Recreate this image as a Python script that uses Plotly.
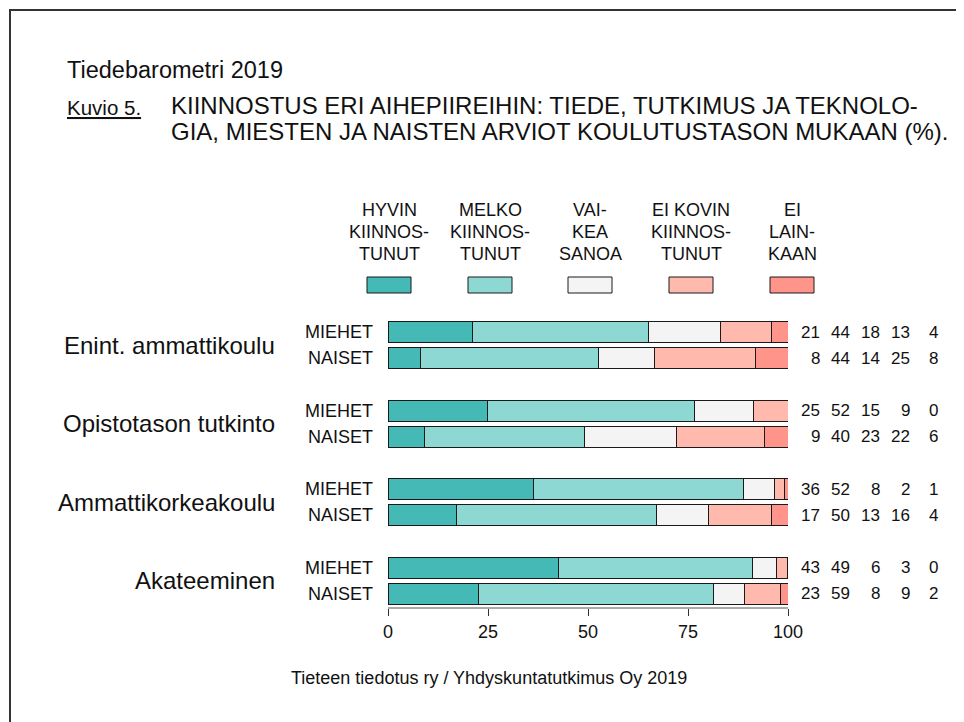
import plotly.graph_objects as go

# ---- data ----
groups = ["Enint. ammattikoulu", "Opistotason tutkinto", "Ammattikorkeakoulu", "Akateeminen"]
genders = ["MIEHET", "NAISET"]
categories = [["HYVIN", "KIINNOS-", "TUNUT"], ["MELKO", "KIINNOS-", "TUNUT"], ["VAI-", "KEA", "SANOA"],
              ["EI KOVIN", "KIINNOS-", "TUNUT"], ["EI", "LAIN-", "KAAN"]]
# rows: (group, gender) in order; values per category (%)
hyvin   = [21.0,  8.2, 24.9,  9.1, 36.4, 17.0, 42.6, 22.7]
melko   = [44.0, 44.4, 51.6, 40.1, 52.4, 50.1, 48.6, 58.6]
vaikea  = [18.0, 14.1, 14.9, 23.0,  7.9, 12.9,  5.8,  7.7]
eikovin = [12.9, 25.2,  8.6, 22.0,  2.3, 15.9,  2.8,  9.0]
eilain  = [ 4.1,  8.1,  0.0,  5.8,  1.0,  4.1,  0.2,  2.0]
series = [hyvin, melko, vaikea, eikovin, eilain]
x_ticks = [0, 25, 50, 75, 100]

colors = ["#45B9B5", "#8ED8D3", "#F4F4F4", "#FFB9AD", "#FF958A"]
FONT = "Liberation Sans, Arial, sans-serif"

OFF = 8  # page margin offset of the rendered figure
W, H = 964, 722
L, T = 388 - OFF, 319 - OFF
PW, PH = 400, 288
R, B = W - L - PW, H - T - PH

def px(xp):
    return (xp - OFF - L) / PW

def py(yp):
    return 1 - (yp - OFF - T) / PH

# y positions: group g, gender s
ypos = [3 * g + s for g in range(len(groups)) for s in range(len(genders))]

fig = go.Figure()
for vals, col, name in zip(series, colors, categories):
    fig.add_trace(go.Bar(
        x=vals, y=ypos, orientation="h", width=0.8,
        marker=dict(color=col, line=dict(color="#1a1a1a", width=1)),
        name=" ".join(name), showlegend=False, hoverinfo="x",
    ))

ann = []
shapes = []

def text(x, y, s, size, xanchor="left", xref="paper", yref="paper"):
    ann.append(dict(x=x, y=y, xref=xref, yref=yref, text=s, showarrow=False,
                    xanchor=xanchor, yanchor="middle",
                    font=dict(size=size, color="#111", family=FONT)))

# row labels
for i, p in enumerate(ypos):
    text(px(375), p, genders[i % 2], 18, "right", yref="y")
# group labels
for g, name in enumerate(groups):
    text(px(277), 3 * g + 0.5, name, 24, "right", yref="y")
# numeric labels
col_right = [822, 852, 882, 912, 940]
for i, p in enumerate(ypos):
    for k, vals in enumerate(series):
        text(px(col_right[k]), p, str(int(round(vals[i]))), 17, "right", yref="y")
# legend
leg_cx = [389, 490, 590, 691, 792]
line_y = [210, 232, 254]
for k, (lines, col) in enumerate(zip(categories, colors)):
    cx = leg_cx[k]
    shapes.append(dict(type="rect", xref="paper", yref="paper",
                       x0=px(cx - 22), x1=px(cx + 22), y0=py(293), y1=py(277),
                       fillcolor=col, line=dict(color="#1a1a1a", width=1)))
    for ln, yl in zip(lines, line_y):
        text(px(cx), py(yl), ln, 18, "center")
# titles
text(px(65), py(70), "Tiedebarometri 2019", 23.5)
text(px(65), py(107), "<u>Kuvio 5.</u>", 20.5)
text(px(169), py(105), "KIINNOSTUS ERI AIHEPIIREIHIN: TIEDE, TUTKIMUS JA TEKNOLO-", 24)
text(px(169), py(131), "GIA, MIESTEN JA NAISTEN ARVIOT KOULUTUSTASON MUKAAN (%).", 24)
text(px(489), py(678), "Tieteen tiedotus ry / Yhdyskuntatutkimus Oy 2019", 18, "center")
# frame
shapes.append(dict(type="rect", xref="paper", yref="paper",
                   x0=px(10), x1=px(1000), y0=py(1000), y1=py(10),
                   line=dict(color="#333", width=2), fillcolor="rgba(0,0,0,0)"))

fig.update_layout(
    width=W, height=H, barmode="stack",
    margin=dict(l=L, r=R, t=T, b=B, pad=0),
    paper_bgcolor="white", plot_bgcolor="white",
    annotations=ann, shapes=shapes, showlegend=False,
    font=dict(family=FONT, color="#111"),
    xaxis=dict(range=[0, 100], tickvals=x_ticks, ticktext=[str(v) for v in x_ticks],
               showgrid=False, zeroline=False, showline=True, linecolor="#aaa", linewidth=2,
               ticks="outside", ticklen=7, tickcolor="#333", tickwidth=1,
               tickfont=dict(size=18, family=FONT, color="#111")),
    yaxis=dict(range=[10.5, -0.5], showticklabels=False, showgrid=False, zeroline=False,
               showline=False, ticks=""),
)

fig.write_html("out.html")
